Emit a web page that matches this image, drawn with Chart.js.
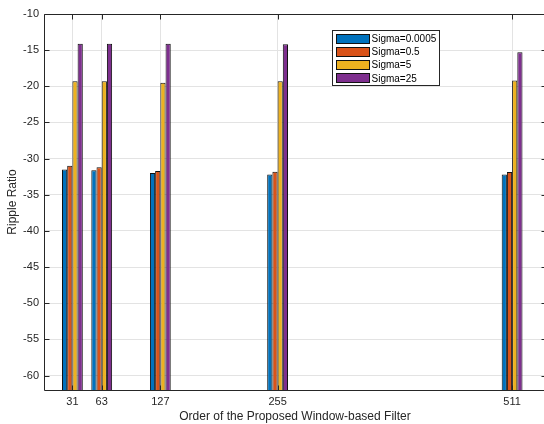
<!DOCTYPE html>
<html>
<head>
<meta charset="utf-8">
<script src="https://cdn.jsdelivr.net/npm/chart.js@4/dist/chart.umd.min.js"></script>
<style>
  html, body { margin: 0; padding: 0; background: #fff; overflow: hidden; width: 544px; height: 424px; }
  #wrap { width: 548px; height: 424px; }
</style>
</head>
<body>
<div id="wrap"><canvas id="c" width="548" height="424"></canvas></div>
<script>
// Filter orders on the x axis and the ripple ratio for each sigma
const orders = [31, 63, 127, 255, 511];
const sigmaLabels = ['Sigma=0.0005', 'Sigma=0.5', 'Sigma=5', 'Sigma=25'];
const sigma0005 = [-31.5, -31.6, -32.0, -32.2, -32.2];
const sigma05   = [-31.0, -31.2, -31.7, -31.8, -31.85];
const sigma5    = [-19.3, -19.3, -19.5, -19.3, -19.2];
const sigma25   = [-14.1, -14.1, -14.1, -14.2, -15.3];
const yTicks = [-60, -55, -50, -45, -40, -35, -30, -25, -20, -15, -10];
const xTicks = orders;
const Y_MIN = -62, Y_MAX = -10;
const X_MIN = 0, X_MAX = 548;

const colors = ['#0072BD', '#D95319', '#EDB120', '#7E2F8E'];
const series = [sigma0005, sigma05, sigma5, sigma25];
const FONT = '"Liberation Sans", Arial, Helvetica, sans-serif';
const AXIS_COLOR = '#262626';

const datasets = series.map((vals, i) => ({
  label: sigmaLabels[i],
  data: orders.map((x, j) => ({ x: x, y: vals[j] })),
  backgroundColor: colors[i],
  borderColor: '#111',
  borderWidth: 1,
  base: Y_MIN,
  barPercentage: 1.0,
  categoryPercentage: 0.71
}));

// Box with inward tick marks on all four sides
const boxPlugin = {
  id: 'box',
  afterDatasetsDraw(chart) {
    const { ctx, chartArea: a, scales } = chart;
    const L = Math.round(a.left) + 0.5, R = Math.round(a.right) + 0.5;
    const T = Math.round(a.top) + 0.5, B = Math.round(a.bottom) + 0.5;
    ctx.save();
    ctx.strokeStyle = AXIS_COLOR;
    ctx.lineWidth = 1;
    ctx.beginPath();
    ctx.rect(L, T, R - L, B - T);
    const tl = 5;
    xTicks.forEach(v => {
      const px = Math.round(scales.x.getPixelForValue(v)) + 0.5;
      ctx.moveTo(px, B); ctx.lineTo(px, B - tl);
      ctx.moveTo(px, T); ctx.lineTo(px, T + tl);
    });
    yTicks.forEach(v => {
      const py = Math.round(scales.y.getPixelForValue(v)) + 0.5;
      ctx.moveTo(L, py); ctx.lineTo(L + tl, py);
      ctx.moveTo(R, py); ctx.lineTo(R - tl, py);
    });
    ctx.stroke();
    ctx.restore();
  }
};

// Boxed legend inside the plot area
const legendPlugin = {
  id: 'boxLegend',
  afterDraw(chart) {
    const { ctx } = chart;
    const bx = 332.5, by = 30.5, bw = 107, bh = 55;
    ctx.save();
    ctx.fillStyle = '#fff';
    ctx.fillRect(bx, by, bw, bh);
    ctx.strokeStyle = '#262626';
    ctx.lineWidth = 1;
    ctx.strokeRect(bx, by, bw, bh);
    ctx.font = '10px ' + FONT;
    ctx.textBaseline = 'middle';
    chart.data.datasets.forEach((ds, i) => {
      const cy = by + 8 + i * 13.3;
      ctx.fillStyle = ds.backgroundColor;
      ctx.fillRect(336, Math.round(cy - 5), 34, 10);
      ctx.strokeStyle = '#111';
      ctx.strokeRect(336.5, Math.round(cy - 5) + 0.5, 33, 9);
      ctx.fillStyle = '#000';
      ctx.fillText(ds.label, 371.5, cy + 0.5);
    });
    ctx.restore();
  }
};

new Chart(document.getElementById('c'), {
  type: 'bar',
  data: { datasets },
  options: {
    responsive: false,
    animation: false,
    layout: { padding: { top: 14, left: 0, right: 2, bottom: 0 } },
    plugins: { legend: { display: false }, tooltip: { enabled: false } },
    scales: {
      x: {
        type: 'linear',
        min: X_MIN, max: X_MAX,
        offset: false,
        afterBuildTicks(s) { s.ticks = xTicks.map(v => ({ value: v })); },
        afterFit(s) { s.height = 34; },
        grid: { color: '#e3e3e3', drawTicks: false, offset: false },
        border: { display: false },
        ticks: { color: AXIS_COLOR, font: { family: FONT, size: 11 }, padding: 5, maxRotation: 0, autoSkip: false },
        title: { display: true, text: 'Order of the Proposed Window-based Filter', color: AXIS_COLOR,
                 font: { family: FONT, size: 12 }, padding: { top: 0, bottom: 0 } }
      },
      y: {
        type: 'linear',
        min: Y_MIN, max: Y_MAX,
        afterBuildTicks(s) { s.ticks = yTicks.map(v => ({ value: v })); },
        afterFit(s) { s.width = 44; },
        grid: { color: '#e3e3e3', drawTicks: false },
        border: { display: false },
        ticks: { color: AXIS_COLOR, font: { family: FONT, size: 11 }, padding: 5, autoSkip: false },
        title: { display: true, text: 'Ripple Ratio', color: AXIS_COLOR,
                 font: { family: FONT, size: 12 }, padding: { top: 5, bottom: 0 } }
      }
    }
  },
  plugins: [boxPlugin, legendPlugin]
});
</script>
</body>
</html>
